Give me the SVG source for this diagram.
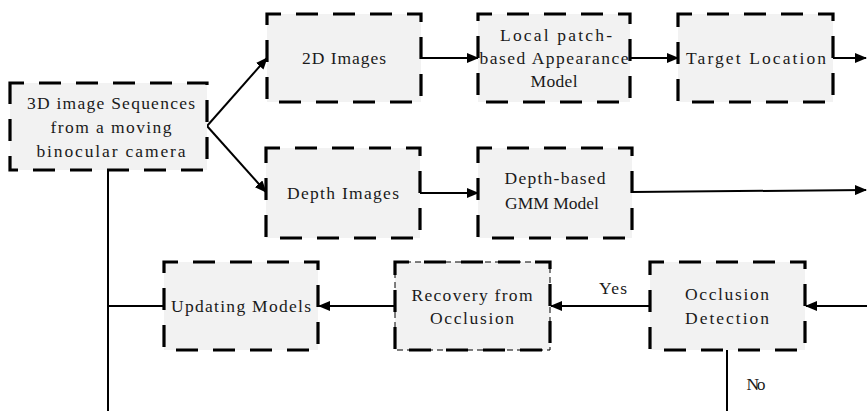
<svg xmlns="http://www.w3.org/2000/svg" width="867" height="411" viewBox="0 0 867 411">
<style>
.box{fill:#f2f2f2;stroke:#000;stroke-width:3.2;stroke-dasharray:22 15;stroke-dashoffset:8}
.thin{fill:none;stroke:#000;stroke-width:1;stroke-dasharray:6 4}
.t{font-family:"Liberation Serif",serif;font-size:17.5px;fill:#1a1a1a;text-anchor:middle}
.c{fill:none;stroke:#000;stroke-width:2}
</style>
<defs>
<marker id="ah" markerWidth="12" markerHeight="10" refX="11" refY="5" orient="auto" markerUnits="userSpaceOnUse">
<path d="M0,0 L12,5 L0,10 Z" fill="#000"/>
</marker>
</defs>
<rect width="867" height="411" fill="#fff"/>
<g id="connectors">
<line class="c" x1="207" y1="126" x2="267" y2="58" marker-end="url(#ah)"/>
<line class="c" x1="207" y1="126" x2="266" y2="192" marker-end="url(#ah)"/>
<line class="c" x1="421" y1="58" x2="478" y2="58" marker-end="url(#ah)"/>
<line class="c" x1="630" y1="58" x2="678" y2="58" marker-end="url(#ah)"/>
<line class="c" x1="833" y1="58" x2="866" y2="58" marker-end="url(#ah)"/>
<line class="c" x1="420" y1="193" x2="478" y2="193" marker-end="url(#ah)"/>
<line class="c" x1="632" y1="192" x2="866" y2="190" marker-end="url(#ah)"/>
<line class="c" x1="867" y1="306" x2="806" y2="306" marker-end="url(#ah)"/>
<line class="c" x1="650" y1="306" x2="551" y2="306" marker-end="url(#ah)"/>
<line class="c" x1="395" y1="306" x2="319" y2="306" marker-end="url(#ah)"/>
<line class="c" x1="164" y1="306" x2="108" y2="306"/>
<line class="c" x1="108" y1="170" x2="108" y2="411"/>
<line class="c" x1="727" y1="350" x2="727" y2="411"/>
<text class="t" x="613" y="294" textLength="28" lengthAdjust="spacing">Yes</text>
<text class="t" x="756" y="390" textLength="19" lengthAdjust="spacing">No</text>
</g>
<g id="n3d">
<rect class="box" x="10" y="83" width="197" height="87"/>
<text class="t" x="111" y="109" textLength="168" lengthAdjust="spacing">3D image Sequences</text>
<text class="t" x="111" y="133" textLength="121" lengthAdjust="spacing">from a moving</text>
<text class="t" x="111" y="157" textLength="149" lengthAdjust="spacing">binocular camera</text>
</g>
<g id="n2d">
<rect class="box" x="267" y="14" width="154" height="88"/>
<text class="t" x="344" y="64" textLength="84" lengthAdjust="spacing">2D Images</text>
</g>
<g id="nlocal">
<rect class="box" x="478" y="14" width="152" height="88"/>
<text class="t" x="556" y="41" textLength="112" lengthAdjust="spacing">Local patch-</text>
<text class="t" x="554" y="64" textLength="149" lengthAdjust="spacing">based Appearance</text>
<text class="t" x="554" y="87" textLength="47" lengthAdjust="spacing">Model</text>
</g>
<g id="ntarget">
<rect class="box" x="678" y="14" width="155" height="88"/>
<text class="t" x="756" y="64" textLength="140" lengthAdjust="spacing">Target Location</text>
</g>
<g id="ndepth">
<rect class="box" x="266" y="148" width="154" height="90"/>
<text class="t" x="343" y="199" textLength="112" lengthAdjust="spacing">Depth Images</text>
</g>
<g id="ngmm">
<rect class="box" x="478" y="148" width="154" height="90"/>
<text class="t" x="555" y="184" textLength="101" lengthAdjust="spacing">Depth-based</text>
<text class="t" x="552" y="209">GMM Model</text>
</g>
<g id="nocc">
<rect class="box" x="650" y="262" width="155" height="88"/>
<text class="t" x="727" y="300" textLength="84" lengthAdjust="spacing">Occlusion</text>
<text class="t" x="727" y="324" textLength="84" lengthAdjust="spacing">Detection</text>
</g>
<g id="nrec">
<rect class="box" x="395" y="262" width="155" height="88"/>
<rect class="thin" x="395" y="262" width="155" height="88"/>
<text class="t" x="472" y="301" textLength="121" lengthAdjust="spacing">Recovery from</text>
<text class="t" x="472" y="324" textLength="84" lengthAdjust="spacing">Occlusion</text>
</g>
<g id="nupd">
<rect class="box" x="164" y="262" width="154" height="88"/>
<text class="t" x="241" y="312" textLength="140" lengthAdjust="spacing">Updating Models</text>
</g>
</svg>
